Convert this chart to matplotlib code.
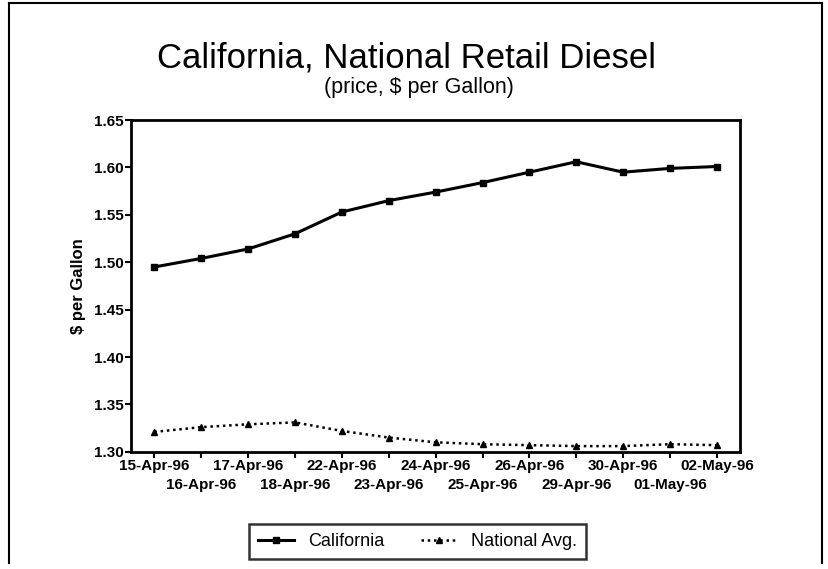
import matplotlib
matplotlib.use("Agg")
import matplotlib.pyplot as plt
from matplotlib.lines import Line2D

# daily retail diesel prices, $ per gallon
dates = ["15-Apr-96", "16-Apr-96", "17-Apr-96", "18-Apr-96", "22-Apr-96",
         "23-Apr-96", "24-Apr-96", "25-Apr-96", "26-Apr-96", "29-Apr-96",
         "30-Apr-96", "01-May-96", "02-May-96"]
california = [1.495, 1.504, 1.514, 1.530, 1.553, 1.565, 1.574, 1.584,
              1.595, 1.606, 1.595, 1.599, 1.601]
national = [1.321, 1.326, 1.329, 1.331, 1.322, 1.315, 1.310, 1.308,
            1.307, 1.306, 1.306, 1.308, 1.307]
yticks = [1.30, 1.35, 1.40, 1.45, 1.50, 1.55, 1.60, 1.65]

plt.rcParams['font.family'] = ['Liberation Sans', 'DejaVu Sans']

fig = plt.figure(figsize=(8.29, 5.69), dpi=100)
ax = fig.add_axes([0.158, 0.206, 0.735, 0.583])

x = list(range(len(dates)))
ax.plot(x, california, color='black', lw=2.2, marker='s', ms=5, label='California')
ax.plot(x, national, color='black', lw=1.8, ls=(0, (1, 1.5)), marker='^', ms=5,
        label='National Avg.')

ax.set_xlim(-0.5, len(dates) - 0.5)
ax.set_ylim(1.30, 1.65)
ax.set_yticks(yticks)
ax.set_yticklabels([f"{v:.2f}" for v in yticks], fontsize=11, fontweight='bold')

# date labels staggered on two rows: even days as major ticks, odd as minor
ax.set_xticks(x[0::2])
ax.set_xticklabels(dates[0::2], fontsize=11, fontweight='bold')
ax.set_xticks(x[1::2], minor=True)
ax.set_xticklabels(dates[1::2], minor=True, fontsize=11, fontweight='bold')
ax.tick_params(axis='both', which='both', direction='out', length=4, width=1.5)
ax.tick_params(axis='x', which='major', pad=1)
ax.tick_params(axis='x', which='minor', pad=15)
ax.tick_params(axis='y', pad=1)

for s in ax.spines.values():
    s.set_linewidth(2)

ax.set_ylabel("$ per Gallon", fontsize=12, fontweight='bold', labelpad=6)

fig.text(0.49, 0.898, "California, National Retail Diesel", ha='center',
         va='center', fontsize=25)
fig.text(0.505, 0.846, "(price, $ per Gallon)", ha='center', va='center',
         fontsize=15.5)

leg = ax.legend(loc='upper center', bbox_to_anchor=(0.47, -0.19), ncol=2,
                frameon=True, fancybox=False, edgecolor='black',
                fontsize=13, handlelength=2, columnspacing=2.0,
                borderpad=0.5)
leg.get_frame().set_linewidth(1.8)

# page border
fig.add_artist(Line2D([0.011, 0.992], [0.995, 0.995], color='black', lw=1.5))
fig.add_artist(Line2D([0.011, 0.011], [0.995, 0.01], color='black', lw=1.5))
fig.add_artist(Line2D([0.992, 0.992], [0.995, 0.01], color='black', lw=1.5))

fig.savefig("out.png", dpi=100)
